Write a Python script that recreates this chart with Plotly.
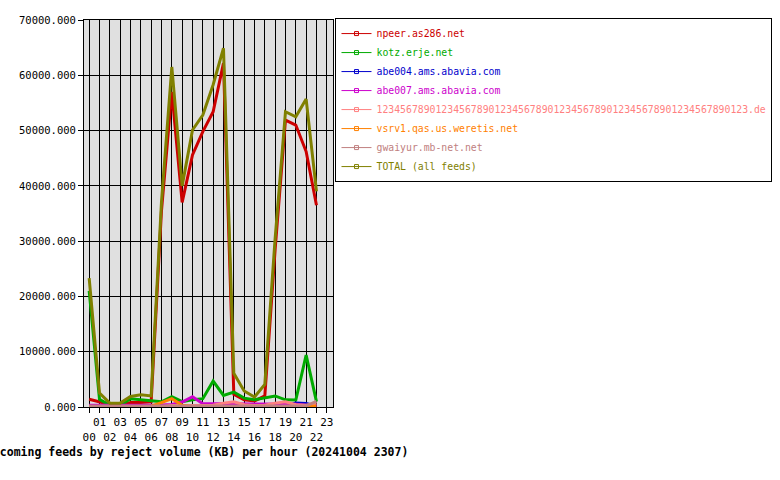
import plotly.graph_objects as go

hours = list(range(23))
tick_hours = list(range(24))
tick_labels = [("%02d" % h) if h % 2 == 1 else ("<br>%02d" % h) for h in tick_hours]

names = ["npeer.as286.net", "kotz.erje.net", "abe004.ams.abavia.com", "abe007.ams.abavia.com",
         "123456789012345678901234567890123456789012345678901234567890123.de",
         "vsrv1.qas.us.weretis.net", "gwaiyur.mb-net.net", "TOTAL (all feeds)"]
colors = ["#cc0000", "#00aa00", "#0000cc", "#cc00cc", "#ff8080", "#ff8000", "#c08080", "#808000"]

npeer = [1400, 950, 450, 250, 800, 800, 950, 35500, 57000, 37000, 45600, 49800, 53400, 62200,
         2300, 1300, 1100, 2000, 28500, 51900, 51000, 46200, 36500]
kotz = [21000, 1400, 300, 300, 1500, 1300, 1100, 950, 1870, 960, 1300, 1500, 4700, 2100,
        2700, 1600, 1300, 1600, 2000, 1300, 1250, 9400, 960]
abe004 = [100, 100, 100, 100, 100, 100, 100, 100, 100, 100, 100, 100, 100, 100,
          100, 100, 100, 100, 100, 200, 700, 650, 150]
abe007 = [300, 300, 300, 350, 400, 400, 350, 350, 450, 900, 1870, 600, 600, 600,
          550, 550, 600, 600, 550, 550, 500, 300, 250]
longname = [100, 100, 100, 100, 100, 100, 100, 100, 250, 250, 250, 250, 300, 700,
            950, 400, 250, 300, 700, 950, 400, 300, 700]
vsrv1 = [50, 50, 50, 50, 50, 50, 150, 800, 1500, 300, 50, 50, 50, 50,
         50, 50, 50, 50, 50, 50, 50, 50, 200]
gwaiyur = [200, 200, 200, 200, 200, 200, 200, 200, 200, 200, 200, 200, 200, 200,
           200, 200, 200, 200, 200, 200, 200, 200, 1000]
total = [23300, 2500, 700, 700, 1900, 2200, 2000, 37100, 61500, 40000, 50100, 52800, 58300, 64900,
         6100, 2900, 1800, 4100, 30500, 53400, 52500, 55700, 39000]

series = [npeer, kotz, abe004, abe007, longname, vsrv1, gwaiyur, total]

MONO = "DejaVu Sans Mono"
fig = go.Figure()
for name, col, vals in zip(names, colors, series):
    fig.add_trace(go.Scatter(x=hours, y=vals, mode="lines", line=dict(color=col, width=3),
                             showlegend=False, hoverinfo="skip"))
for name, col in zip(names, colors):
    fig.add_trace(go.Scatter(x=[None], y=[None], mode="lines+markers",
                             name="<span style='color:%s'>%s</span>" % (col, name),
                             line=dict(color=col, width=1),
                             marker=dict(symbol="square-open", size=4, color=col, line=dict(width=1))))

fig.update_layout(
    width=780, height=480,
    margin=dict(l=84, r=447, t=20, b=73, autoexpand=False),
    paper_bgcolor="white",
    plot_bgcolor="#e0e0e0",
    font=dict(family=MONO, size=10.5, color="black"),
    showlegend=True,
    hovermode=False,
    legend=dict(x=1.01, y=1.005, xanchor="left", yanchor="top",
                bgcolor="white", bordercolor="black", borderwidth=1,
                font=dict(family=MONO, size=9.8), itemwidth=30, tracegroupgap=0),
    xaxis=dict(range=[-0.5, 23.6], tickmode="array", tickvals=tick_hours, ticktext=tick_labels,
               showgrid=True, gridcolor="black", gridwidth=1, zeroline=False,
               showline=True, linecolor="black", linewidth=1, mirror=True,
               ticks="outside", ticklen=5, tickcolor="black", tickangle=0, automargin=False,
               tickfont=dict(family=MONO, size=11)),
    yaxis=dict(range=[0, 70000], tickmode="linear", tick0=0, dtick=10000, tickformat=".3f",
               showgrid=True, gridcolor="black", gridwidth=1, zeroline=False,
               showline=True, linecolor="black", linewidth=1, mirror=True,
               ticks="outside", ticklen=5, tickcolor="black", automargin=False,
               tickfont=dict(family=MONO, size=10.5)),
    annotations=[dict(text="<b>Incoming feeds by reject volume (KB) per hour (20241004 2307)</b>",
                      xref="paper", yref="paper", x=1.309, y=-0.1155,
                      xanchor="right", yanchor="middle", showarrow=False,
                      font=dict(family=MONO, size=11.5, color="black"))],
)

# remove the default 8px page margin so the figure sits at the window's top-left corner
fig.write_html("out.html", config={"displayModeBar": False},
               post_script="document.body.style.margin='0';")
